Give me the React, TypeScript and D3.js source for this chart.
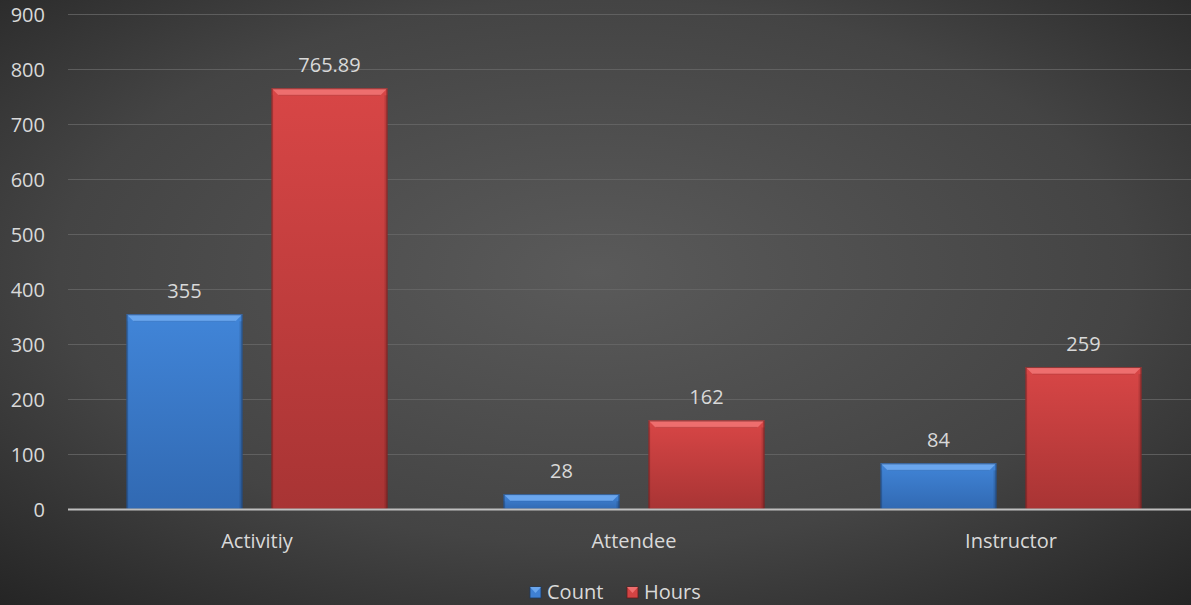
import React from "react";
import * as d3 from "d3";

const categories = ["Activitiy", "Attendee", "Instructor"];
const seriesNames = ["Count", "Hours"];
const countValues = [355, 28, 84];
const hoursValues = [765.89, 162, 259];
const countLabels = ["355", "28", "84"];
const hoursLabels = ["765.89", "162", "259"];
const yTicks = [0, 100, 200, 300, 400, 500, 600, 700, 800, 900];

const W = 1191;
const H = 605;
const FONT = "'Open Sans', 'Liberation Sans', sans-serif";

const palettes = [
  { light: "#6aa6ee", main: "#3f80d4", dark: "#3169b2", edge: "#1d3a63", top: "#4185d8" },
  { light: "#ee6e6e", main: "#d24343", dark: "#a83434", edge: "#5e1c1c", top: "#d84646" },
];

export default function App() {
  const x0 = d3.scaleBand<string>().domain(categories).range([68.5, 1199.5]).paddingInner(0).paddingOuter(0);
  const x1 = d3.scaleBand<string>().domain(seriesNames).range([0, x0.bandwidth()]).paddingInner(0.2).paddingOuter(0.4);
  const y = d3.scaleLinear().domain([0, 900]).range([509.5, 14.5]);
  const series = [countValues, hoursValues];
  const labels = [countLabels, hoursLabels];

  const bar = (cx: number, top: number, w: number, bottom: number, si: number, key: string) => {
    const p = palettes[si];
    const h = bottom - top;
    const bev = Math.min(7, h / 2);
    return (
      <g key={key}>
        <rect x={cx} y={top} width={w} height={h} fill={`url(#grad-s${si})`} />
        {/* top bevel */}
        <path d={`M${cx},${top} L${cx + w},${top} L${cx + w - bev},${top + bev} L${cx + bev},${top + bev} Z`} fill={p.light} />
        <line x1={cx + bev} x2={cx + w - bev} y1={top + bev} y2={top + bev} stroke={p.dark} strokeOpacity={0.5} strokeWidth={1} />
        {/* side shading */}
        <rect x={cx + w - 3} y={top + bev} width={3} height={Math.max(0, h - bev)} fill="#000" opacity={0.12} />
        <rect x={cx} y={top + bev} width={2} height={Math.max(0, h - bev)} fill="#000" opacity={0.06} />
        <rect x={cx + 0.5} y={top + 0.5} width={w - 1} height={h - 1} fill="none" stroke={p.edge} strokeWidth={1} opacity={0.7} />
      </g>
    );
  };

  return (
    <svg width={W} height={H} style={{ position: "absolute", left: 0, top: 0, display: "block" }}>
      <defs>
        <radialGradient id="bg" cx="50%" cy="45%" r="75%">
          <stop offset="0%" stopColor="#5a5a5a" />
          <stop offset="60%" stopColor="#444444" />
          <stop offset="100%" stopColor="#242424" />
        </radialGradient>
        {palettes.map((p, i) => (
          <linearGradient key={i} id={`grad-s${i}`} x1="0" y1="0" x2="0" y2="1">
            <stop offset="0%" stopColor={p.top} />
            <stop offset="100%" stopColor={p.dark} />
          </linearGradient>
        ))}
      </defs>
      <rect x={0} y={0} width={W} height={H} fill="url(#bg)" />
      {/* gridlines */}
      {yTicks.filter((t) => t > 0).map((t) => (
        <line key={t} x1={68} x2={W} y1={y(t)} y2={y(t)} stroke="#6a6a6a" strokeOpacity={0.75} strokeWidth={1.2} />
      ))}
      {/* y tick labels */}
      {yTicks.map((t) => (
        <text key={t} x={45} y={y(t)} dy="0.36em" textAnchor="end" fill="#d9d9d9" fontFamily={FONT} fontSize={20}>
          {t}
        </text>
      ))}
      {/* bars */}
      {categories.map((c, ci) => (
        <g key={c}>
          {seriesNames.map((s, si) => {
            const bx = (x0(c) as number) + (x1(s) as number);
            const bw = x1.bandwidth();
            const top = y(series[si][ci]);
            return (
              <g key={s}>
                {bar(bx, top, bw, y(0), si, `s${si}-${ci}`)}
                <text x={bx + bw / 2} y={top - 16} textAnchor="middle" fill="#d9d9d9" fontFamily={FONT} fontSize={20}>
                  {labels[si][ci]}
                </text>
              </g>
            );
          })}
          <text x={(x0(c) as number) + x0.bandwidth() / 2} y={548} textAnchor="middle" fill="#d9d9d9" fontFamily={FONT} fontSize={20}>
            {c}
          </text>
        </g>
      ))}
      {/* axis line */}
      <line x1={68} x2={W} y1={y(0)} y2={y(0)} stroke="#bfbfbf" strokeWidth={2} />
      {/* legend */}
      {seriesNames.map((s, i) => {
        const lx = [530, 627][i];
        const p = palettes[i];
        return (
          <g key={s}>
            <rect x={lx} y={587} width={11} height={11} fill={p.main} stroke={p.edge} strokeWidth={0.8} />
            <path d={`M${lx},${587} L${lx + 11},${587} L${lx + 5.5},${593} Z`} fill={p.light} />
            <text x={lx + 17} y={599} fill="#d9d9d9" fontFamily={FONT} fontSize={20}>
              {s}
            </text>
          </g>
        );
      })}
    </svg>
  );
}
